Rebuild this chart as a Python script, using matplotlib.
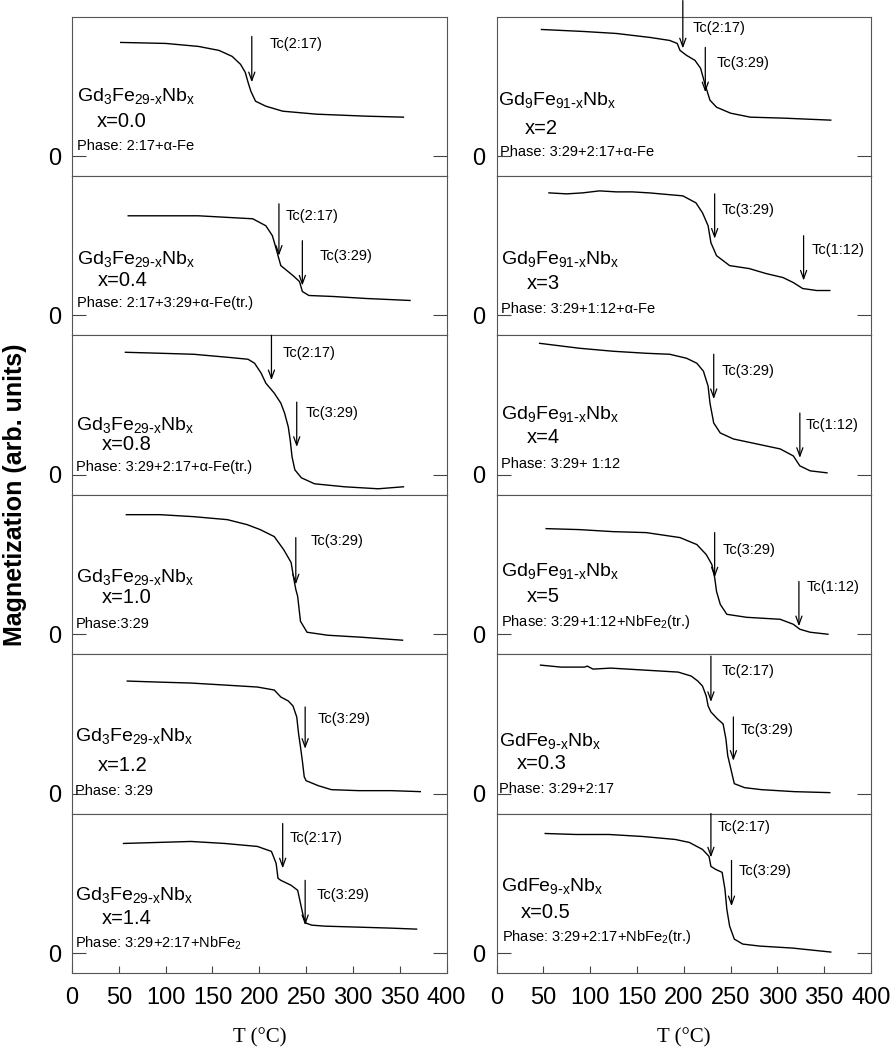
import numpy as np
import matplotlib
matplotlib.use('Agg')
import matplotlib.pyplot as plt

plt.rcParams['font.family'] = ['Liberation Sans', 'DejaVu Sans']
plt.rcParams['mathtext.default'] = 'regular'

# ---- M(T) curves: T in degC, M in arb. units (0 = zero line) ----
# left column: Gd3Fe29-xNbx
T_x00 = [52, 100, 135, 157, 171, 180, 185, 188, 191, 196, 207, 225, 261, 314, 354]
M_x00 = [114, 113, 110, 106, 100, 92, 84, 74, 65, 55, 50, 45, 42, 40, 39]

T_x04 = [60, 135, 193, 207, 214, 218, 220, 223, 236, 243, 246, 253, 279, 314, 361]
M_x04 = [100, 100, 97, 90, 80, 67, 60, 50, 40, 34, 24, 20, 19, 17, 15]

T_x08 = [57, 95, 130, 166, 188, 195, 202, 207, 216, 223, 227, 231, 233, 235, 238, 245, 259, 291, 327, 354]
M_x08 = [123, 122, 121, 118, 116, 112, 102, 92, 82, 72, 62, 48, 35, 18, 5, -3, -9, -12, -14, -12]

T_x10 = [58, 94, 130, 166, 187, 201, 216, 226, 234, 237, 239, 241, 244, 251, 273, 309, 353]
M_x10 = [120, 120, 118, 115, 110, 105, 98, 85, 72, 55, 45, 38, 13, 2, -1, -3, -6]

T_x12 = [59, 91, 127, 163, 198, 216, 223, 231, 236, 240, 242, 244, 246, 248, 250, 263, 277, 306, 341, 372]
M_x12 = [113, 112, 111, 109, 107, 104, 97, 93, 88, 77, 60, 47, 33, 17, 13, 8, 4, 3, 3, 2]

T_x14 = [55, 91, 127, 163, 198, 213, 218, 220, 223, 234, 241, 244, 247, 250, 256, 270, 306, 341, 368]
M_x14 = [110, 111, 112, 110, 107, 102, 90, 75, 73, 68, 63, 50, 37, 30, 28, 27, 26, 25, 24]

# right column: Gd9Fe91-xNbx and GdFe9-xNbx
T_x2 = [48, 93, 128, 164, 185, 193, 196, 203, 212, 218, 223, 228, 235, 250, 271, 307, 357]
M_x2 = [127, 125, 123, 119, 116, 113, 106, 101, 96, 88, 71, 56, 49, 43, 39, 38, 36]

T_x3 = [56, 75, 92, 110, 128, 145, 163, 199, 213, 220, 226, 229, 235, 249, 270, 288, 306, 317, 327, 342, 356]
M_x3 = [123, 122, 123, 125, 124, 124, 123, 120, 113, 103, 90, 73, 60, 50, 47, 42, 38, 33, 27, 25, 25]

T_x4 = [46, 89, 125, 160, 185, 203, 214, 221, 226, 228, 232, 239, 253, 278, 303, 317, 324, 335, 353]
M_x4 = [132, 127, 124, 122, 121, 117, 112, 104, 89, 72, 52, 42, 36, 31, 26, 19, 9, 4, 2]

T_x5 = [53, 89, 124, 160, 196, 214, 224, 230, 233, 235, 239, 246, 267, 303, 317, 324, 335, 354]
M_x5 = [106, 105, 103, 102, 97, 90, 80, 70, 57, 43, 30, 20, 17, 15, 10, 5, 2, 0]

T_x03 = [47, 69, 94, 97, 103, 122, 158, 194, 208, 215, 220, 224, 226, 229, 236, 242, 245, 247, 251, 254, 265, 283, 318, 356]
M_x03 = [129, 127, 127, 128, 125, 126, 124, 122, 118, 113, 108, 98, 88, 82, 75, 70, 55, 38, 22, 10, 6, 4, 2, 1]

T_x05 = [52, 85, 120, 156, 191, 206, 220, 227, 229, 234, 241, 244, 246, 249, 254, 263, 281, 316, 357]
M_x05 = [120, 119, 119, 117, 114, 111, 104, 97, 87, 84, 81, 64, 44, 27, 14, 9, 7, 5, 1]

# ---- labels ----
f_3_29 = r'$Gd_3Fe_{29\text{-}x}Nb_x$'
f_9_91 = r'$Gd_9Fe_{91\text{-}x}Nb_x$'
f_1_9 = r'$GdFe_{9\text{-}x}Nb_x$'

formulas = [[f_3_29, f_9_91], [f_3_29, f_9_91], [f_3_29, f_9_91],
            [f_3_29, f_9_91], [f_3_29, f_1_9], [f_3_29, f_1_9]]
x_labels = [['x=0.0', 'x=2'], ['x=0.4', 'x=3'], ['x=0.8', 'x=4'],
            ['x=1.0', 'x=5'], ['x=1.2', 'x=0.3'], ['x=1.4', 'x=0.5']]
phases = [['Phase: 2:17+α-Fe', 'Phase: 3:29+2:17+α-Fe'],
          ['Phase: 2:17+3:29+α-Fe(tr.)', 'Phase: 3:29+1:12+α-Fe'],
          ['Phase: 3:29+2:17+α-Fe(tr.)', 'Phase: 3:29+ 1:12'],
          ['Phase:3:29', r'Phase: 3:29+1:12+NbFe$_2$(tr.)'],
          ['Phase: 3:29', 'Phase: 3:29+2:17'],
          [r'Phase: 3:29+2:17+NbFe$_2$', r'Phase: 3:29+2:17+NbFe$_2$(tr.)']]

curves = [[(T_x00, M_x00), (T_x2, M_x2)],
          [(T_x04, M_x04), (T_x3, M_x3)],
          [(T_x08, M_x08), (T_x4, M_x4)],
          [(T_x10, M_x10), (T_x5, M_x5)],
          [(T_x12, M_x12), (T_x03, M_x03)],
          [(T_x14, M_x14), (T_x05, M_x05)]]

# Curie temperatures marked by arrows: (label, Tc)
tc_marks = [[[('Tc(2:17)', 192)], [('Tc(2:17)', 199), ('Tc(3:29)', 223)]],
            [[('Tc(2:17)', 221), ('Tc(3:29)', 246)], [('Tc(3:29)', 233), ('Tc(1:12)', 328)]],
            [[('Tc(2:17)', 213), ('Tc(3:29)', 240)], [('Tc(3:29)', 232), ('Tc(1:12)', 324)]],
            [[('Tc(3:29)', 239)], [('Tc(3:29)', 233), ('Tc(1:12)', 323)]],
            [[('Tc(3:29)', 249)], [('Tc(2:17)', 229), ('Tc(3:29)', 253)]],
            [[('Tc(2:17)', 225), ('Tc(3:29)', 249)], [('Tc(2:17)', 229), ('Tc(3:29)', 251)]]]

# ---- layout of the annotations (arrow top, arrow tip, text x, text y) ----
arrow_pos = [[[(120, 74, 211, 112)], [(156, 108, 210, 128), (109, 64, 235, 93)]],
             [[(112, 60, 228, 100), (75, 30, 264, 60)], [(122, 77, 240, 106), (80, 35, 337, 66)]],
             [[(140, 95, 225, 122), (73, 28, 250, 62)], [(121, 76, 240, 104), (62, 17, 330, 50)]],
             [[(97, 50, 255, 94)], [(102, 57, 241, 85), (53, 8, 331, 47)]],
             [[(87, 45, 262, 75)], [(138, 92, 240, 123), (77, 33, 261, 64)]],
             [[(130, 85, 232, 115), (73, 28, 261, 58)], [(140, 96, 236, 127), (93, 47, 259, 82)]]]
# (formula x, y), (x= x, y), (phase x, y)
label_pos = [[[(5, 60), (26, 35), (5, 10)], [(2, 56), (30, 28), (4, 4)]],
             [[(5, 57), (27, 35), (5, 12)], [(5, 57), (32, 32), (5, 6)]],
             [[(4, 50), (32, 30), (4, 8)], [(5, 61), (32, 37), (5, 11)]],
             [[(4, 57), (32, 37), (4, 10)], [(5, 63), (32, 38), (5, 12)]],
             [[(3, 58), (27, 28), (3, 3)], [(3, 53), (22, 30), (3, 5)]],
             [[(3, 58), (32, 35), (3, 10)], [(5, 67), (26, 41), (6, 16)]]]


def draw_panel(ax, row, col):
    T, M = curves[row][col]
    ax.plot(T, M, color='black', lw=1.0)
    ax.set_xlim(0, 400)
    ax.set_ylim(-20, 140)
    ax.set_yticks([0])
    ax.set_yticklabels(['0'])
    ax.set_xticks(np.arange(0, 401, 50))
    ax.tick_params(axis='y', direction='in', length=10, width=0.8, color='#444444',
                   left=True, right=True, labelsize=17, pad=8)
    last = row == 5
    ax.tick_params(axis='x', direction='in', length=5, width=0.8, color='#444444',
                   top=False, bottom=last, labelbottom=last, labelsize=17, pad=10)
    for s in ax.spines.values():
        s.set_color('#555555')
        s.set_linewidth(0.8)

    (fx, fy), (xx, xy), (px, py) = label_pos[row][col]
    ax.text(fx, fy, formulas[row][col], fontsize=14, ha='left', va='center')
    ax.text(xx, xy, x_labels[row][col], fontsize=14.5, ha='left', va='center')
    ax.text(px, py, phases[row][col], fontsize=10.5, ha='left', va='center')

    for (lab, tc), (y0, y1, tx, ty) in zip(tc_marks[row][col], arrow_pos[row][col]):
        ax.annotate('', xy=(tc, y1), xytext=(tc, y0), annotation_clip=False,
                    arrowprops=dict(arrowstyle='->,head_length=0.6,head_width=0.22',
                                    color='black', lw=0.9, shrinkA=0, shrinkB=0))
        ax.text(tx, ty, lab, fontsize=10.5, ha='left', va='center')


def main():
    fig, axes = plt.subplots(6, 2, figsize=(8.96, 10.53), dpi=100, sharex=True,
                             gridspec_kw=dict(hspace=0, wspace=0.1335))
    fig.subplots_adjust(left=0.0804, right=0.9721, top=0.9843, bottom=0.0760)

    for row in range(6):
        for col in range(2):
            draw_panel(axes[row, col], row, col)

    fig.text(0.017, 0.53, 'Magnetization (arb. units)', rotation=90,
             fontweight='bold', fontsize=18, ha='center', va='center')
    for col in range(2):
        pos = axes[5, col].get_position()
        fig.text((pos.x0 + pos.x1) / 2, 1 - 1038 / 1053, 'T (°C)',
                 family=['Liberation Serif', 'DejaVu Serif'], fontsize=15,
                 ha='center', va='center')

    fig.savefig('out.png', dpi=100)


if __name__ == "__main__":
    main()
